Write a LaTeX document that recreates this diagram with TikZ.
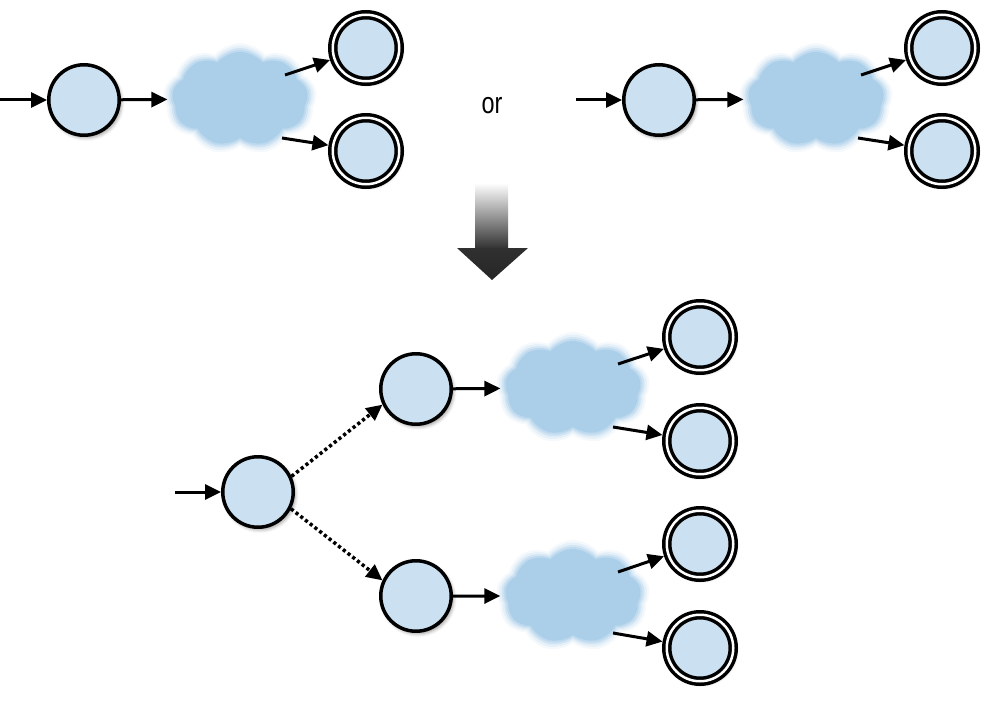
\documentclass[tikz,border=0pt]{standalone}
\usepackage{fontspec}
\newfontfamily\orfont[FakeStretch=0.78]{Liberation Sans}
\usetikzlibrary{arrows.meta,shapes.symbols,shadows.blur}
\definecolor{circfill}{RGB}{203,225,241}
\definecolor{cloudcol}{RGB}{172,207,233}
\definecolor{arrowdark}{RGB}{48,48,48}
\tikzset{
  softshadow/.style={blur shadow={shadow xshift=2pt, shadow yshift=-2.5pt, shadow blur radius=3.5pt, shadow opacity=40}},
  state/.style={circle, inner sep=0pt, minimum size=70.5pt, line width=3.5pt, draw=black, fill=circfill, softshadow},
  accept/.style={circle, inner sep=0pt, minimum size=66.5pt, line width=3.5pt, draw=black, double=white, double distance=2.5pt, fill=circfill, outer sep=4.75pt, softshadow},
  conn/.style={line width=3pt, -{Triangle[length=16pt,width=15pt]}},
  dotconn/.style={line width=3.5pt, dash pattern=on 3.2pt off 2.8pt, -{Triangle[length=16pt,width=15pt]}},
  cloudshape/.style={cloud, cloud puffs=9, cloud puff arc=100, cloud ignores aspect, minimum width=136pt, minimum height=94pt, inner sep=0pt, fill=cloudcol, draw=none},
}
\newcommand\fuzzycloud[2]{%
  \node[cloudshape, minimum width=154pt, minimum height=112pt, fill opacity=0.12] (#1a) at (#2) {};
  \node[cloudshape, minimum width=149pt, minimum height=107pt, fill opacity=0.22] (#1b) at (#2) {};
  \node[cloudshape, minimum width=144pt, minimum height=102pt, fill opacity=0.35] (#1c) at (#2) {};
  \node[cloudshape, minimum width=140pt, minimum height=98pt, fill opacity=0.5] (#1d) at (#2) {};
  \node[cloudshape] (#1) at (#2) {};
}
\begin{document}
\begin{tikzpicture}[x=1pt,y=-1pt]
\useasboundingbox (0,0) rectangle (1000,706);

% ---------- top left ----------
\coordinate (s1) at (0,100);
\node[state] (c1) at (84,100) {};
\fuzzycloud{k1}{240,99}
\node[accept] (d1) at (366,48) {};
\node[accept] (d2) at (366,151) {};
\coordinate (k1o1) at (285,75);
\coordinate (k1o2) at (282,138);
\draw[conn] (s1) -- (c1);
\draw[conn, shorten >=5pt] (c1) -- (k1);
\draw[conn] (k1o1) -- (d1);
\draw[conn] (k1o2) -- (d2);

% ---------- "or" ----------
\node[font=\orfont\fontsize{30}{30}\selectfont, inner sep=0pt] (or) at (492,106) {or};

% ---------- top right ----------
\coordinate (s2) at (576,100);
\node[state] (c2) at (659,100) {};
\fuzzycloud{k2}{816,99}
\node[accept] (d3) at (942,48) {};
\node[accept] (d4) at (942,151) {};
\coordinate (k2o1) at (861,75);
\coordinate (k2o2) at (858,138);
\draw[conn] (s2) -- (c2);
\draw[conn, shorten >=5pt] (c2) -- (k2);
\draw[conn] (k2o1) -- (d3);
\draw[conn] (k2o2) -- (d4);

% ---------- big arrow ----------
\shade[top color=white, bottom color=arrowdark] (475,183) rectangle (508,249);
\shade[top color=arrowdark, bottom color=black!85] (457,248) -- (528,248) -- (492,280) -- cycle;

% ---------- bottom ----------
\coordinate (s3) at (175,492);
\node[state] (b0) at (258,492) {};
\node[state] (b1) at (416,389) {};
\node[state] (b2) at (416,596) {};
\fuzzycloud{k3}{573,388}
\fuzzycloud{k4}{573,596}
\node[accept] (e1) at (700,337) {};
\node[accept] (e2) at (700,441) {};
\node[accept] (e3) at (700,544) {};
\node[accept] (e4) at (700,648) {};
\coordinate (k3o1) at (618,364);
\coordinate (k3o2) at (613,427);
\coordinate (k4o1) at (618,572);
\coordinate (k4o2) at (613,633);
\draw[conn] (s3) -- (b0);
\draw[dotconn] (b0.25) -- (b1.205);
\draw[dotconn] (b0.333) -- (b2.155);
\draw[conn, shorten >=5pt] (b1) -- (k3);
\draw[conn, shorten >=5pt] (b2) -- (k4);
\draw[conn] (k3o1) -- (e1);
\draw[conn] (k3o2) -- (e2);
\draw[conn] (k4o1) -- (e3);
\draw[conn] (k4o2) -- (e4);
\end{tikzpicture}
\end{document}
